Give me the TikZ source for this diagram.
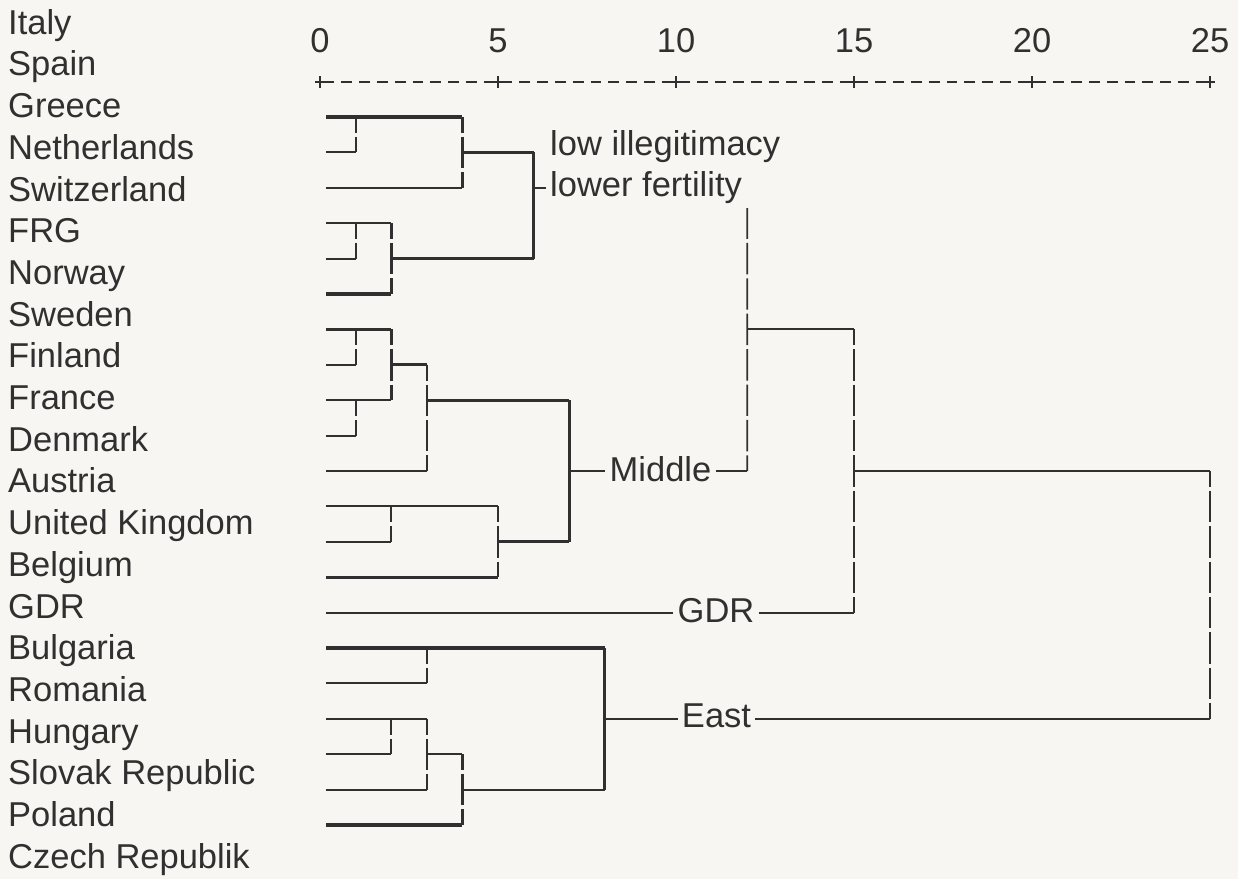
\documentclass[tikz,border=0pt]{standalone}
\usepackage{fontspec}
\setmainfont{Liberation Sans}
\usepackage{tikz}
\usepackage{xcolor}

\definecolor{ink}{HTML}{303030}
\definecolor{paper}{HTML}{F8F6F2}

\begin{document}
\begin{tikzpicture}[x=1pt,y=-1pt,
  txt/.style={font=\fontsize{34.5}{40}\selectfont, text=ink, inner ysep=0pt, inner xsep=4pt, text height=24.5pt, text depth=0pt},
  country/.style={txt, anchor=west, inner xsep=0pt},
  thinl/.style={draw=ink, line width=1.9pt},
  midl/.style={draw=ink, line width=2.6pt},
  thickl/.style={draw=ink, line width=3.3pt},
  heavyl/.style={draw=ink, line width=4.3pt},
  vdash/.style={dash pattern=on 31.4pt off 4pt, dash phase=15.7pt}]
\useasboundingbox[fill=paper] (0,0) rectangle (1238,879);

% labels on the left
\foreach \name [count=\i] in {Italy,Spain,Greece,Netherlands,Switzerland,FRG,Norway,Sweden,Finland,France,Denmark,Austria,United Kingdom,Belgium,GDR,Bulgaria,Romania,Hungary,Slovak Republic,Poland,Czech Republik}
  \node[country] (lab\i) at (8,{22+41.7*(\i-1)}) {\name};

% distance axis
\foreach \n in {0,5,...,25}
  \node[txt] (num\n) at ({320+35.6*\n},40) {\n};
\draw[ink, line width=1.5pt, dash pattern=on 10.8pt off 7pt, dash phase=-3.5pt] (320,82) -- (1210,82);
\foreach \n in {0,5,...,25}
  \draw[ink, line width=1.7pt] ({320+35.6*\n-5},82) -- ({320+35.6*\n+5},82) ({320+35.6*\n},76) -- ({320+35.6*\n},88);

% rows and columns
\foreach \i in {1,...,21}
  \coordinate (r\i) at (326,{117+35.4*(\i-1)});
\foreach \n in {1,2,3,4,5,6,7,8,12,15,25}
  \coordinate (c\n) at ({320+35.6*\n},0);

% group labels
\node[txt, anchor=west] (lowill) at (546,143) {low illegitimacy};
\node[txt, anchor=west] (lowfert) at (546,184) {lower fertility};
\node[txt] (middle) at (660.5,469) {Middle};
\node[txt] (gdr) at (716,610) {GDR};
\node[txt] (east) at (716.5,715) {East};
\coordinate (top12) at (747.2,208);

% top cluster
\draw[thickl] (r1) -- (c4 |- r1);
\draw[thinl, vdash] (c1 |- r1) -- (c1 |- r2);
\draw[thinl] (r2) -- (c1 |- r2);
\draw[midl, vdash] (c4 |- r1) -- (c4 |- r3);
\draw[thinl] (r3) -- (c4 |- r3);
\draw[midl] (c4 |- r2) -- (c6 |- r2);
\draw[thinl] (r4) -- (c2 |- r4);
\draw[thinl, vdash] (c1 |- r4) -- (c1 |- r5);
\draw[thinl] (r5) -- (c1 |- r5);
\draw[midl, vdash] (c2 |- r4) -- (c2 |- r6);
\draw[thickl] (r6) -- (c2 |- r6);
\draw[midl] (c2 |- r5) -- (c6 |- r5);
\draw[thickl] (c6 |- r2) -- (c6 |- r5);
\draw[thinl] (c6 |- r3) -- (lowfert.west |- r3);

% middle cluster
\draw[thickl] (r7) -- (c2 |- r7);
\draw[thinl, vdash] (c1 |- r7) -- (c1 |- r8);
\draw[thinl] (r8) -- (c1 |- r8);
\draw[thickl, vdash] (c2 |- r7) -- (c2 |- r9);
\draw[thinl] (r9) -- (c2 |- r9);
\draw[thinl, vdash] (c1 |- r9) -- (c1 |- r10);
\draw[thinl] (r10) -- (c1 |- r10);
\draw[thickl] (c2 |- r8) -- (c3 |- r8);
\draw[midl, vdash] (c3 |- r8) -- (c3 |- r11);
\draw[thinl] (r11) -- (c3 |- r11);
\draw[thickl] (c3 |- r9) -- (c7 |- r9);
\draw[thinl] (r12) -- (c5 |- r12);
\draw[thinl, vdash] (c2 |- r12) -- (c2 |- r13);
\draw[thinl] (r13) -- (c2 |- r13);
\draw[midl, vdash] (c5 |- r12) -- (c5 |- r14);
\draw[thickl] (r14) -- (c5 |- r14);
\draw[thickl] (c5 |- r13) -- (c7 |- r13);
\draw[thickl] (c7 |- r9) -- (c7 |- r13);
\draw[thinl] (c7 |- r11) -- (middle.west |- r11);

% east cluster
\draw[heavyl] (r16) -- (c8 |- r16);
\draw[thinl, vdash] (c3 |- r16) -- (c3 |- r17);
\draw[thinl] (r17) -- (c3 |- r17);
\draw[thinl] (r18) -- (c3 |- r18);
\draw[thinl, vdash] (c2 |- r18) -- (c2 |- r19);
\draw[thinl] (r19) -- (c2 |- r19);
\draw[thinl, vdash] (c3 |- r18) -- (c3 |- r20);
\draw[thinl] (r20) -- (c3 |- r20);
\draw[thinl] (c3 |- r19) -- (c4 |- r19);
\draw[midl, vdash] (c4 |- r19) -- (c4 |- r21);
\draw[thickl] (r21) -- (c4 |- r21);
\draw[thinl] (c4 |- r20) -- (c8 |- r20);
\draw[thickl] (c8 |- r16) -- (c8 |- r20);
\draw[thinl] (c8 |- r18) -- (east.west |- r18);

% joins on the right
\draw[thinl, dash pattern=on 31.4pt off 4pt, dash phase=0.5pt] (top12) -- (c12 |- r11);
\draw[thinl] (middle.east |- r11) -- (c12 |- r11);
\draw[thinl] (c12 |- r7) -- (c15 |- r7);
\draw[thinl, vdash] (c15 |- r7) -- (c15 |- r15);
\draw[thinl] (r15) -- (gdr.west |- r15);
\draw[thinl] (gdr.east |- r15) -- (c15 |- r15);
\draw[thinl] (c15 |- r11) -- (c25 |- r11);
\draw[thinl] (east.east |- r18) -- (c25 |- r18);
\draw[thinl, vdash] (c25 |- r11) -- (c25 |- r18);
\end{tikzpicture}
\end{document}
